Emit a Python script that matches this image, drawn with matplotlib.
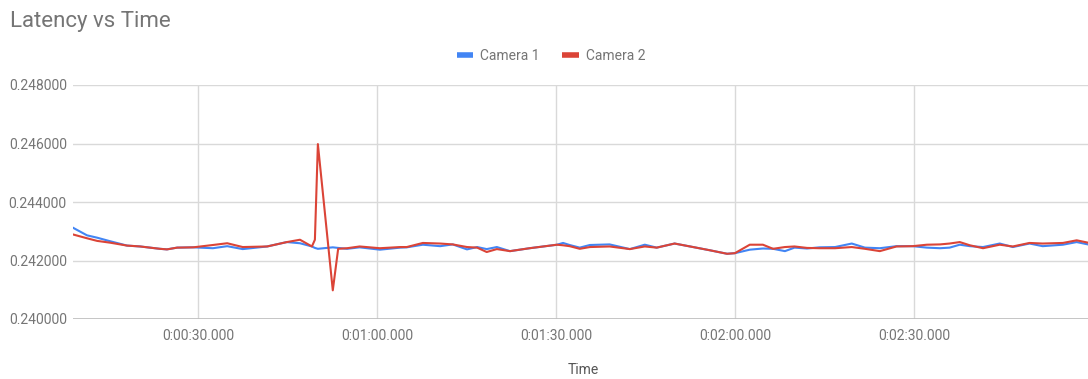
import matplotlib
matplotlib.use("Agg")
import matplotlib.pyplot as plt
from matplotlib.lines import Line2D
from matplotlib.ticker import FuncFormatter, FixedLocator

plt.rcParams["font.family"] = ["Roboto", "DejaVu Sans"]

# sample times in seconds since start
t_sec = [9.05, 11.4, 13.1, 15.25, 18.1, 20.3, 23.6, 24.8, 26.5, 29.2,
         32.5, 34.9, 37.5, 41.6, 44.9, 47.1, 49.1, 49.6, 50.1, 52.6,
         53.5, 55.0, 57.1, 60.5, 63.9, 65.0, 67.7, 70.6, 72.7, 75.1,
         76.8, 78.4, 80.1, 82.3, 85.6, 90.2, 91.2, 92.3, 94.0, 95.7,
         99.0, 102.4, 104.9, 106.9, 109.9, 113.0, 115.8, 118.7, 120.0, 122.5,
         124.7, 126.4, 128.4, 130.0, 132.1, 134.2, 136.8, 139.6, 141.8, 144.3,
         147.1, 149.8, 152.2, 154.4, 156.0, 157.7, 159.4, 161.6, 164.4, 166.6,
         169.4, 171.6, 175.0, 177.3, 179.2]

camera1 = [0.24312, 0.24286, 0.24278, 0.24266, 0.24251, 0.24248, 0.24240, 0.24238, 0.24244, 0.24245,
           0.24242, 0.24249, 0.24239, 0.24248, 0.24263, 0.24259, 0.24248, 0.24243, 0.24240, 0.24245,
           0.24243, 0.24240, 0.24245, 0.24237, 0.24244, 0.24245, 0.24254, 0.24249, 0.24255, 0.24238,
           0.24246, 0.24239, 0.24246, 0.24232, 0.24242, 0.24254, 0.24260, 0.24253, 0.24244, 0.24253,
           0.24255, 0.24239, 0.24254, 0.24244, 0.24258, 0.24246, 0.24235, 0.24223, 0.24225, 0.24237,
           0.24241, 0.24240, 0.24232, 0.24244, 0.24241, 0.24245, 0.24246, 0.24258, 0.24244, 0.24242,
           0.24249, 0.24249, 0.24244, 0.24242, 0.24244, 0.24254, 0.24249, 0.24246, 0.24258, 0.24246,
           0.24258, 0.24249, 0.24254, 0.24263, 0.24255]

camera2 = [0.24289, 0.24276, 0.24267, 0.24261, 0.24251, 0.24248, 0.24240, 0.24238, 0.24244, 0.24245,
           0.24253, 0.24259, 0.24246, 0.24248, 0.24263, 0.24271, 0.24248, 0.24271, 0.24598, 0.24098,
           0.24240, 0.24242, 0.24248, 0.24242, 0.24246, 0.24246, 0.24260, 0.24258, 0.24255, 0.24246,
           0.24244, 0.24229, 0.24239, 0.24232, 0.24242, 0.24254, 0.24252, 0.24249, 0.24240, 0.24246,
           0.24248, 0.24239, 0.24248, 0.24244, 0.24258, 0.24246, 0.24235, 0.24223, 0.24225, 0.24254,
           0.24254, 0.24240, 0.24246, 0.24248, 0.24243, 0.24242, 0.24242, 0.24246, 0.24240, 0.24232,
           0.24248, 0.24249, 0.24254, 0.24255, 0.24258, 0.24263, 0.24252, 0.24242, 0.24254, 0.24248,
           0.24260, 0.24258, 0.24260, 0.24269, 0.24261]

y_ticks = [0.240, 0.242, 0.244, 0.246, 0.248]
x_ticks = [30, 60, 90, 120, 150]

BLUE = "#4285F4"
RED = "#DB4437"
GREY = "#757575"

W, H = 1088, 379
fig = plt.figure(figsize=(W / 100, H / 100), dpi=100)
ax = fig.add_axes([73 / W, 1 - 319 / H, 1 - 73 / W, (319 - 85) / H])

ax.plot(t_sec, camera1, color=BLUE, lw=1.5, zorder=3)
ax.plot(t_sec, camera2, color=RED, lw=1.5, zorder=4)

ax.set_xlim(9.05, 179.2)
ax.set_ylim(0.240, 0.248)


def fmt_time(s, pos=None):
    s = int(round(s))
    return "%d:%02d:%02d.000" % (s // 3600, (s // 60) % 60, s % 60)


ax.xaxis.set_major_locator(FixedLocator(x_ticks))
ax.xaxis.set_major_formatter(FuncFormatter(fmt_time))
ax.yaxis.set_major_locator(FixedLocator(y_ticks))
ax.yaxis.set_major_formatter(FuncFormatter(lambda v, p: "%.6f" % v))

ax.grid(True, color="#d9d9d9", lw=1.0)
ax.set_axisbelow(True)
for sp in ax.spines.values():
    sp.set_visible(False)
ax.tick_params(axis="both", length=0, colors=GREY, labelsize=10)
ax.tick_params(axis="y", pad=4.5)
ax.tick_params(axis="x", pad=7)
ax.axhline(0.240, color="#bdbdbd", lw=1.2, zorder=2)

fig.text(10 / W, 1 - 21 / H, "Latency vs Time", color=GREY, fontsize=16,
         ha="left", va="center")
fig.text(583 / W, 1 - 370 / H, "Time", color="#555555", fontsize=10,
         ha="center", va="center")

handles = [Line2D([], [], color=BLUE, lw=4, solid_capstyle="butt"),
           Line2D([], [], color=RED, lw=4, solid_capstyle="butt")]
fig.legend(handles, ["Camera 1", "Camera 2"], loc="center",
           bbox_to_anchor=(551 / W, 1 - 56 / H), ncol=2, frameon=False,
           handlelength=1.2, handletextpad=0.5, columnspacing=1.6,
           fontsize=10, labelcolor=GREY)

fig.savefig("out.png", dpi=100)
